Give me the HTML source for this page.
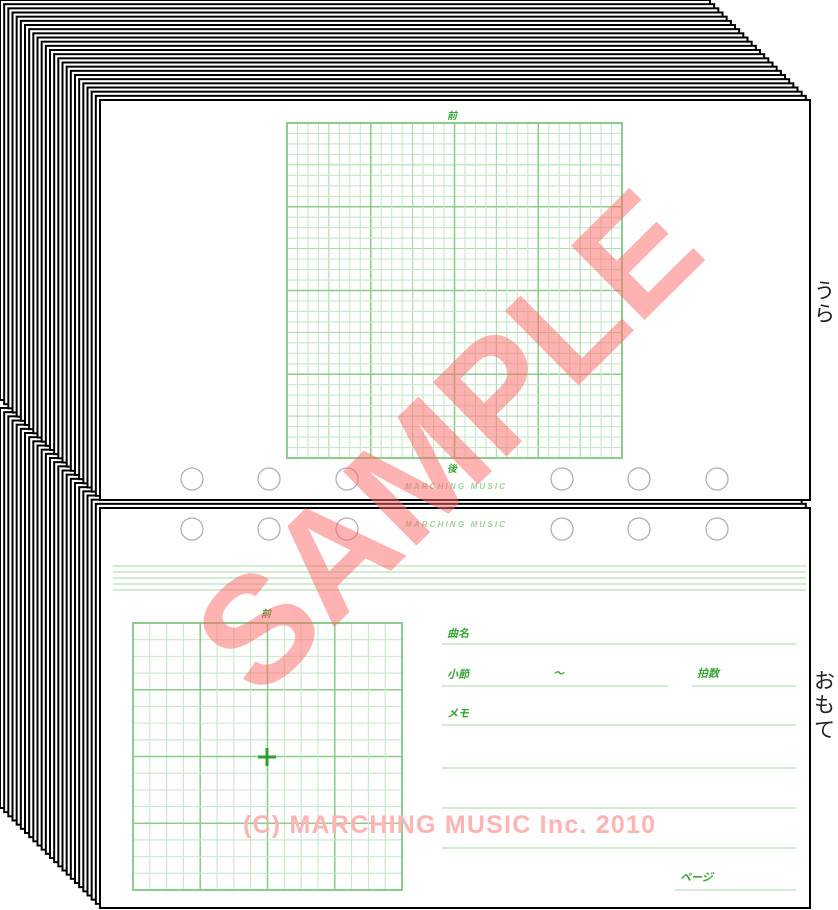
<!DOCTYPE html>
<html><head><meta charset="utf-8">
<style>
html,body{margin:0;padding:0;background:#fff;}
svg{display:block;}
.jp{font-family:"Liberation Sans","Noto Sans CJK JP",sans-serif;}
</style></head>
<body>
<svg id="s" width="838" height="910" viewBox="0 0 838 910" xmlns="http://www.w3.org/2000/svg">
<g id="bstack"></g>
<g id="tstack"></g>
<rect x="100" y="100" width="710" height="400" fill="#fff" stroke="#000" stroke-width="2"/>
<rect x="100" y="508" width="710" height="400" fill="#fff" stroke="#000" stroke-width="2"/>
<g id="grids"></g>
<g fill="none" stroke="#b0b0b0" stroke-width="1.3">
<circle cx="192" cy="479" r="11"/><circle cx="269" cy="479" r="11"/><circle cx="347" cy="479" r="11"/>
<circle cx="562" cy="479" r="11"/><circle cx="639" cy="479" r="11"/><circle cx="717" cy="479" r="11"/>
<circle cx="192" cy="529" r="11"/><circle cx="269" cy="529" r="11"/><circle cx="347" cy="529" r="11"/>
<circle cx="562" cy="529" r="11"/><circle cx="639" cy="529" r="11"/><circle cx="717" cy="529" r="11"/>
</g>
<g class="jp" fill="#9fd09f" font-size="8" font-style="italic" font-weight="bold">
<text x="405" y="489" textLength="100">MARCHING MUSIC</text>
<text x="405" y="527" textLength="100">MARCHING MUSIC</text>
</g>
<g stroke="#c3e6c3" stroke-width="1.5">
<line x1="113" y1="566" x2="806" y2="566"/><line x1="113" y1="572" x2="806" y2="572"/>
<line x1="113" y1="578" x2="806" y2="578"/><line x1="113" y1="584" x2="806" y2="584"/>
<line x1="113" y1="590" x2="806" y2="590"/>
<line x1="442" y1="644" x2="796" y2="644"/>
<line x1="442" y1="686" x2="668" y2="686"/><line x1="692" y1="686" x2="796" y2="686"/>
<line x1="442" y1="725" x2="796" y2="725"/>
<line x1="442" y1="768" x2="796" y2="768"/>
<line x1="442" y1="808" x2="796" y2="808"/>
<line x1="442" y1="848" x2="796" y2="848"/>
<line x1="675" y1="890" x2="796" y2="890"/>
</g>
<g class="jp" fill="#3aa63a" font-size="11" font-style="italic" font-weight="bold">
<text x="447" y="637">曲名</text>
<text x="447" y="678">小節</text>
<text x="553" y="677">～</text>
<text x="697" y="677">拍数</text>
<text x="447" y="717">メモ</text>
<text x="680" y="881">ページ</text>
<text x="447" y="119" font-size="10">前</text>
<text x="447" y="472" font-size="10">後</text>
<text x="261" y="617" font-size="10">前</text>
</g>
<g class="jp" fill="#222" font-size="21">
<text x="814" y="298">う</text><text x="814" y="321">ら</text>
<text x="814" y="688">お</text><text x="814" y="712">も</text><text x="814" y="737">て</text>
</g>
<text x="456" y="450" text-anchor="middle" dominant-baseline="middle" font-family="Liberation Sans, sans-serif" font-weight="bold" font-size="152" fill="#ff6666" fill-opacity="0.5" transform="rotate(-44.7 456 450)">SAMPLE</text>
<text x="449" y="833" text-anchor="middle" font-family="Liberation Sans, sans-serif" font-weight="bold" font-size="25" fill="#ffb3b3" textLength="412">(C) MARCHING MUSIC Inc. 2010</text>
</svg>
<script>
var NS="http://www.w3.org/2000/svg";
function el(p,t,a){var e=document.createElementNS(NS,t);for(var k in a)e.setAttribute(k,a[k]);p.appendChild(e);return e;}
var bs=document.getElementById("bstack"),ts=document.getElementById("tstack");
for(var i=0;i<24;i++){var o=i*100/24;
 el(bs,"rect",{x:o,y:408+o,width:710,height:400,fill:"#fff",stroke:"#000","stroke-width":2});
 el(ts,"rect",{x:o,y:o,width:710,height:400,fill:"#fff",stroke:"#000","stroke-width":2});}
var g=document.getElementById("grids");
function grid(x0,y0,w,h,n,maj,mid){
 for(var k=0;k<=n;k++){
  var c=(k%maj==0)?"#8ccc8c":((mid&&k%mid==0)?"#a8d8a8":"#c8e8c8");
  var sw=(k%maj==0)?1.6:1.1;
  var x=x0+w*k/n,y=y0+h*k/n;
  el(g,"line",{x1:x,y1:y0,x2:x,y2:y0+h,stroke:c,"stroke-width":sw});
  el(g,"line",{x1:x0,y1:y,x2:x0+w,y2:y,stroke:c,"stroke-width":sw});
 }
 el(g,"rect",{x:x0,y:y0,width:w,height:h,fill:"none",stroke:"#8ccc8c","stroke-width":2});
}
grid(287,123,335,335,32,8,4);
grid(133,623,269,267,16,4,0);
el(g,"path",{d:"M258 757H276M267 748V766",stroke:"#2f9f2f","stroke-width":3,fill:"none"});
</script>
</body></html>
